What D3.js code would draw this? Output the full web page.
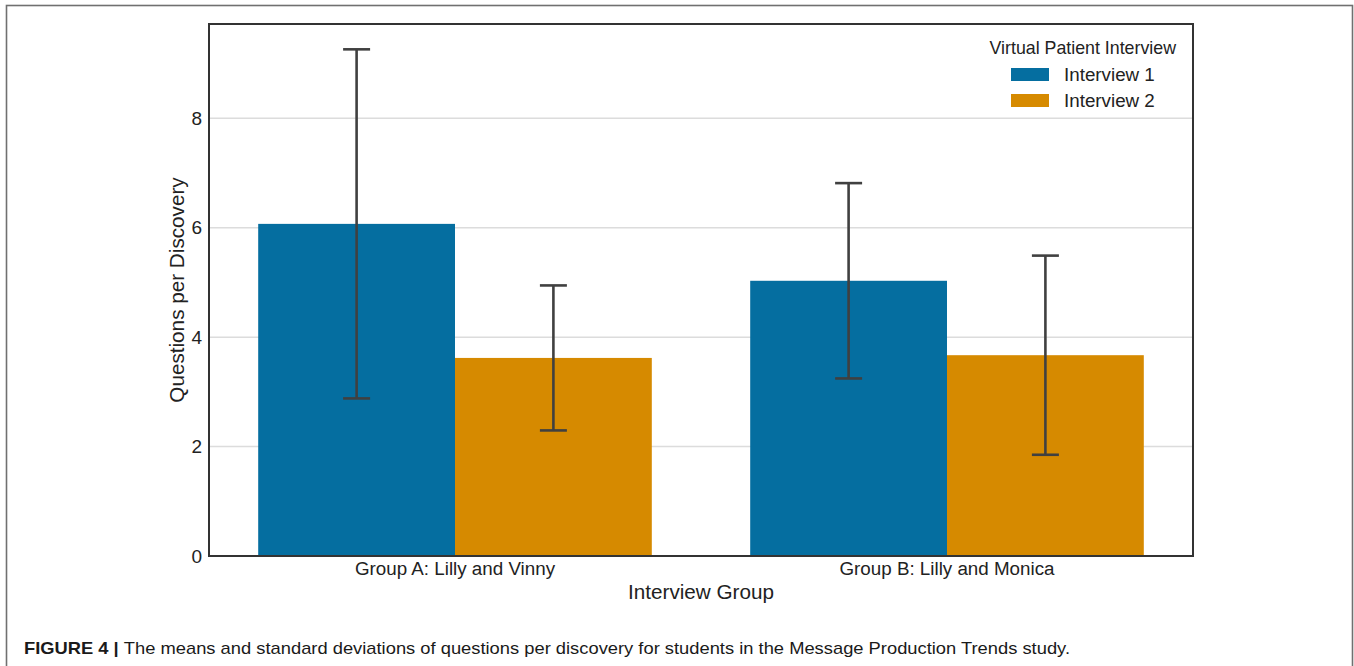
<!DOCTYPE html>
<html>
<head>
<meta charset="utf-8">
<script src="https://cdn.jsdelivr.net/npm/d3@7"></script>
<style>
  html, body { margin: 0; padding: 0; background: #fff; }
  svg { display: block; font-family: "Liberation Sans", Arial, sans-serif; }
</style>
</head>
<body>
<svg id="chart" width="1354" height="666"></svg>
<script>
// Interview groups along the x axis
const groups = ["Group A: Lilly and Vinny", "Group B: Lilly and Monica"];
// Series (hue) names
const series = ["Interview 1", "Interview 2"];
// Mean questions per discovery, per series, per group
const interview1Means = [6.07, 5.03];
const interview2Means = [3.62, 3.67];
// Standard deviations, per series, per group
const interview1SD = [3.19, 1.785];
const interview2SD = [1.325, 1.82];
// Y tick values
const yTicks = [0, 2, 4, 6, 8];

const colors = ["#056ea0", "#d68a00"];

const rows = [];
groups.forEach((g, i) => {
  rows.push({ group: g, series: series[0], mean: interview1Means[i], sd: interview1SD[i] });
  rows.push({ group: g, series: series[1], mean: interview2Means[i], sd: interview2SD[i] });
});

const svg = d3.select("#chart");

// Outer figure frame
svg.append("rect")
  .attr("x", 6.5).attr("y", 5.5)
  .attr("width", 1346).attr("height", 680)
  .attr("fill", "none").attr("stroke", "#707070").attr("stroke-width", 1.6);

const plot = { left: 209, top: 24, right: 1193, bottom: 556 };

const yMax = d3.max(rows, d => d.mean + d.sd) * 1.05;
const y = d3.scaleLinear().domain([0, yMax]).range([plot.bottom, plot.top]);
const x0 = d3.scaleBand().domain(groups).range([plot.left, plot.right]).paddingInner(0.2).paddingOuter(0.1);
const x1 = d3.scaleBand().domain(series).range([0, x0.bandwidth()]);
const color = d3.scaleOrdinal().domain(series).range(colors);

// Horizontal gridlines
svg.append("g")
  .selectAll("line")
  .data(yTicks.filter(t => t > 0))
  .join("line")
  .attr("x1", plot.left).attr("x2", plot.right)
  .attr("y1", d => y(d)).attr("y2", d => y(d))
  .attr("stroke", "#dcdcdc").attr("stroke-width", 1.5);

// Bars
svg.append("g")
  .selectAll("rect")
  .data(rows)
  .join("rect")
  .attr("x", d => x0(d.group) + x1(d.series))
  .attr("y", d => y(d.mean))
  .attr("width", x1.bandwidth())
  .attr("height", d => y(0) - y(d.mean))
  .attr("fill", d => color(d.series));

// Error bars (mean ± SD)
const capW = 27;
const eb = svg.append("g").attr("stroke", "#404040").attr("stroke-width", 2.6).attr("fill", "none");
rows.forEach(d => {
  const cx = x0(d.group) + x1(d.series) + x1.bandwidth() / 2;
  const yHi = y(d.mean + d.sd), yLo = y(d.mean - d.sd);
  eb.append("line").attr("x1", cx).attr("x2", cx).attr("y1", yHi).attr("y2", yLo);
  eb.append("line").attr("x1", cx - capW / 2).attr("x2", cx + capW / 2).attr("y1", yHi).attr("y2", yHi);
  eb.append("line").attr("x1", cx - capW / 2).attr("x2", cx + capW / 2).attr("y1", yLo).attr("y2", yLo);
});

// Axes
const yAxis = svg.append("g")
  .attr("transform", `translate(${plot.left},0)`)
  .call(d3.axisLeft(y).tickValues(yTicks).tickFormat(d3.format("d")).tickSize(0).tickPadding(7));
yAxis.select(".domain").remove();
yAxis.selectAll("text").attr("font-size", 19).attr("fill", "#222").attr("font-family", "Liberation Sans, Arial, sans-serif");

const xAxis = svg.append("g")
  .attr("transform", `translate(0,${plot.bottom})`)
  .call(d3.axisBottom(x0).tickSize(0).tickPadding(6));
xAxis.select(".domain").remove();
xAxis.selectAll("text").attr("font-size", 18.8).attr("fill", "#222").attr("font-family", "Liberation Sans, Arial, sans-serif");

// Plot frame
svg.append("rect")
  .attr("x", plot.left).attr("y", plot.top)
  .attr("width", plot.right - plot.left).attr("height", plot.bottom - plot.top)
  .attr("fill", "none").attr("stroke", "#333").attr("stroke-width", 2);

// Axis titles
svg.append("text")
  .attr("transform", `translate(184,${(plot.top + plot.bottom) / 2}) rotate(-90)`)
  .attr("text-anchor", "middle")
  .attr("font-size", 20.7).attr("fill", "#222")
  .text("Questions per Discovery");

svg.append("text")
  .attr("x", (plot.left + plot.right) / 2).attr("y", 599)
  .attr("text-anchor", "middle")
  .attr("font-size", 20.7).attr("fill", "#222")
  .text("Interview Group");

// Legend
const legend = svg.append("g");
legend.append("text")
  .attr("x", 1176).attr("y", 54)
  .attr("text-anchor", "end")
  .attr("font-size", 17.8).attr("fill", "#222")
  .text("Virtual Patient Interview");
series.forEach((s, i) => {
  const ly = 68 + i * 26;
  legend.append("rect")
    .attr("x", 1011).attr("y", ly).attr("width", 38).attr("height", 13)
    .attr("fill", color(s));
  legend.append("text")
    .attr("x", 1064).attr("y", ly + 13)
    .attr("font-size", 18.8).attr("fill", "#222")
    .text(s);
});

// Caption
const cap = svg.append("text")
  .attr("x", 24).attr("y", 654)
  .attr("font-size", 17).attr("fill", "#1a1a1a")
  .attr("textLength", 1046).attr("lengthAdjust", "spacingAndGlyphs");
cap.append("tspan").attr("font-weight", "bold").text("FIGURE 4 | ");
cap.append("tspan").text("The means and standard deviations of questions per discovery for students in the Message Production Trends study.");
</script>
</body>
</html>
